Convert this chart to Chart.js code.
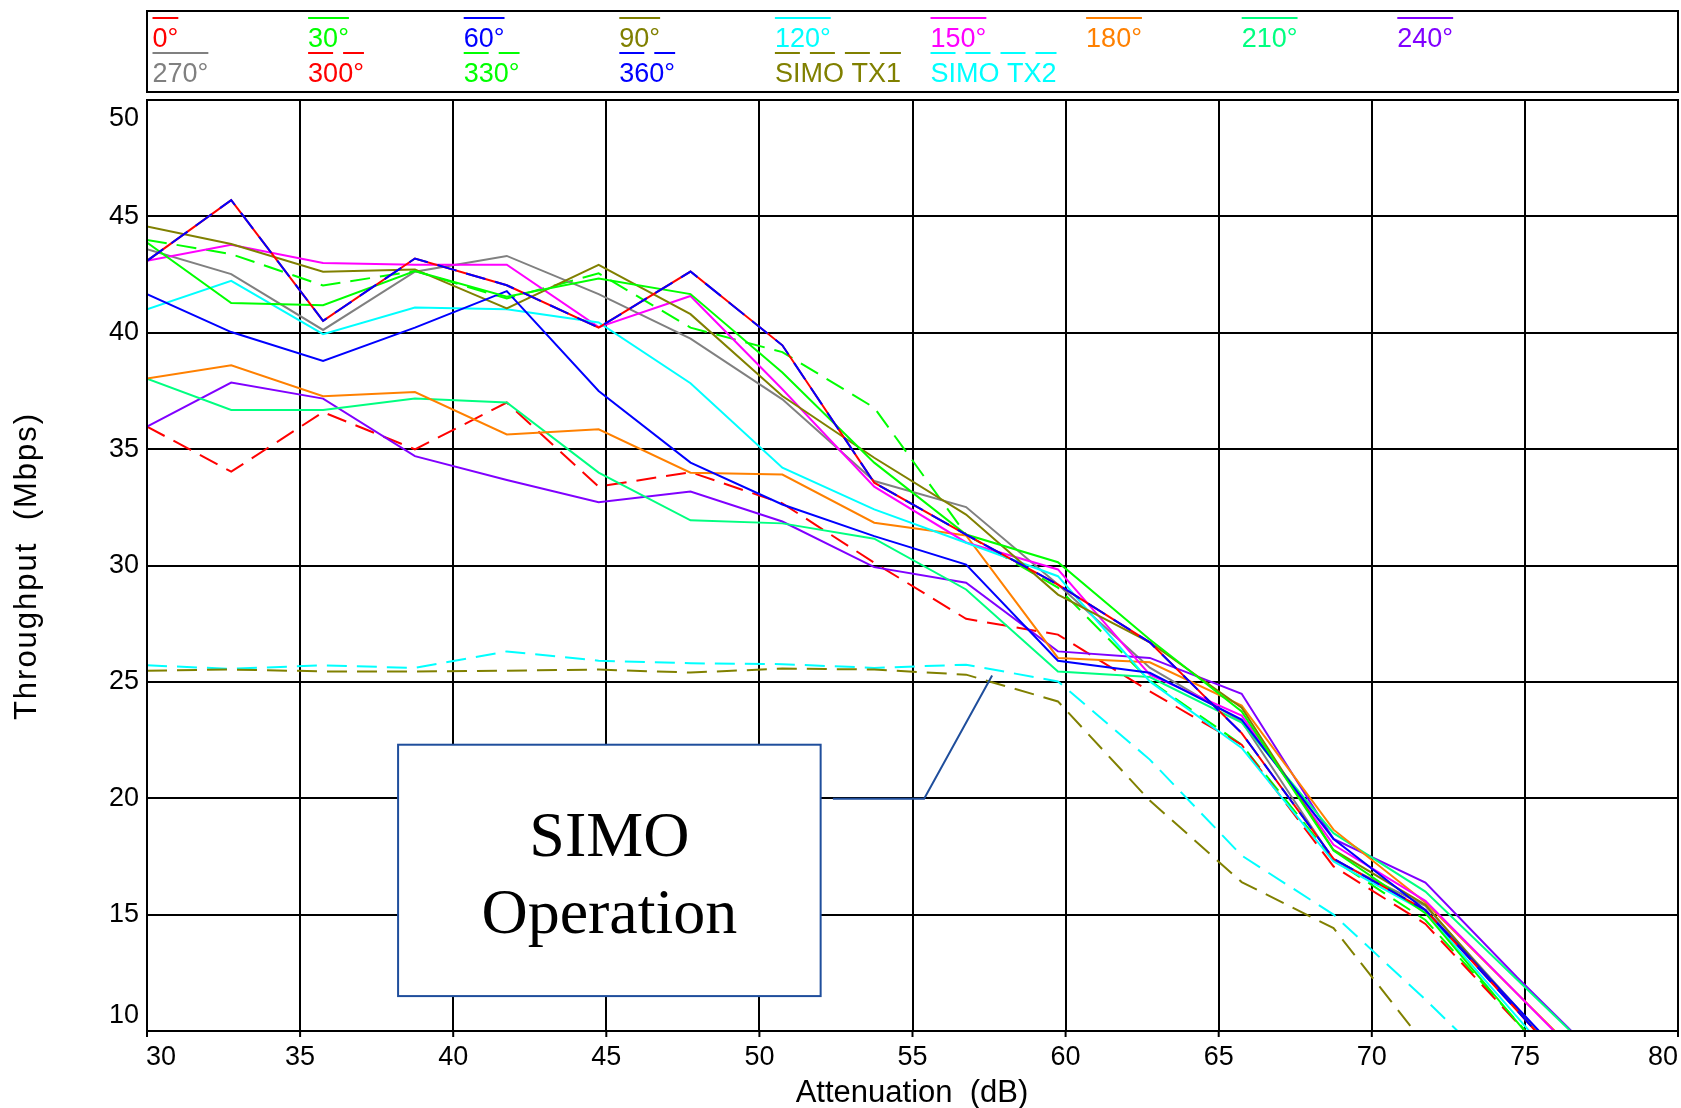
<!DOCTYPE html>
<html>
<head>
<meta charset="utf-8">
<title>SIMO Throughput vs Attenuation</title>
<script src="https://cdn.jsdelivr.net/npm/chart.js@4.4.1/dist/chart.umd.min.js"></script>
<style>
  html, body { margin:0; padding:0; background:#fff; }
  #wrap { width:1681px; height:1108px; }
</style>
</head>
<body>
<div id="wrap"><canvas id="tputChart" width="1681" height="1108"></canvas></div>
<script>
// attenuation steps (dB)
const attenuation = [30, 32.75, 35.75, 38.75, 41.75, 44.75, 47.75, 50.75, 53.75, 56.75, 59.75, 62.75, 65.75, 68.75, 71.75, 74.75, 77.75];

// throughput (Mbps) per rotation angle
const deg0   = [43.09, 45.70, 40.51, 43.19, 42.04, 40.22, 42.63, 39.46, 33.56, 31.33, 29.18, 26.70, 22.80, 17.40, 15.20, 10.87, 6.5];
const deg30  = [43.88, 41.28, 41.18, 42.65, 41.55, 42.33, 41.66, 38.29, 34.42, 31.33, 30.14, 26.82, 23.73, 17.75, 15.06, 10.38, 5.7];
const deg60  = [41.66, 40.03, 38.79, 40.22, 41.79, 37.50, 34.42, 32.62, 31.26, 30.04, 25.91, 25.39, 23.38, 18.25, 15.20, 11.00, 6.8];
const deg90  = [44.57, 43.81, 42.62, 42.72, 41.05, 42.92, 40.80, 37.28, 34.63, 32.19, 28.75, 26.70, 23.89, 17.78, 15.42, 10.90, 6.4];
const deg120 = [41.01, 42.23, 39.94, 41.08, 41.01, 40.44, 37.83, 34.20, 32.41, 30.98, 29.54, 25.02, 22.16, 17.28, 15.12, 10.60, 6.0];
const deg150 = [43.09, 43.78, 43.00, 42.92, 42.92, 40.24, 41.58, 37.57, 33.39, 30.99, 29.83, 25.31, 23.55, 18.00, 15.59, 11.60, 7.6];
const deg180 = [38.03, 38.60, 37.27, 37.45, 35.63, 35.85, 33.99, 33.91, 31.84, 31.29, 26.03, 25.84, 23.98, 18.65, 15.52, 11.60, 7.7];
const deg210 = [38.03, 36.68, 36.68, 37.17, 37.00, 33.99, 31.94, 31.81, 31.15, 28.97, 25.45, 25.21, 23.25, 18.50, 15.99, 12.20, 8.4];
const deg240 = [35.97, 37.86, 37.17, 34.70, 33.67, 32.72, 33.18, 31.89, 29.93, 29.26, 26.31, 26.03, 24.49, 18.25, 16.38, 12.30, 8.4];
const deg270 = [43.59, 42.52, 40.12, 42.62, 43.30, 41.66, 39.75, 37.14, 33.63, 32.51, 29.18, 25.61, 23.30, 17.35, 15.38, 11.00, 6.6];
const deg300 = [35.97, 34.03, 36.59, 34.99, 37.00, 33.39, 34.01, 32.67, 30.12, 27.71, 27.03, 24.59, 22.30, 17.07, 14.60, 10.35, 6.2];
const deg330 = [43.99, 43.38, 42.03, 42.65, 41.47, 42.55, 40.22, 39.17, 36.78, 31.33, 29.05, 25.05, 22.30, 17.35, 14.77, 10.40, 6.0];
const deg360 = [43.09, 45.70, 40.51, 43.19, 42.04, 40.22, 42.63, 39.46, 33.56, 31.33, 29.18, 26.70, 22.80, 17.40, 15.20, 10.87, 6.5];
const simoTx1 = [25.48, 25.53, 25.45, 25.45, 25.48, 25.53, 25.40, 25.57, 25.53, 25.31, 24.16, 19.90, 16.40, 14.42, 9.40, 4.40, null];
const simoTx2 = [25.71, 25.56, 25.71, 25.60, 26.31, 25.91, 25.80, 25.76, 25.60, 25.74, 25.02, 21.66, 17.54, 15.00, 11.35, 7.50, null];

const seriesNames = ['0°', '30°', '60°', '90°', '120°', '150°', '180°', '210°', '240°', '270°', '300°', '330°', '360°', 'SIMO TX1', 'SIMO TX2'];
const seriesData = [deg0, deg30, deg60, deg90, deg120, deg150, deg180, deg210, deg240, deg270, deg300, deg330, deg360, simoTx1, simoTx2];
const seriesColors = ['#ff0000', '#00ff00', '#0000ff', '#808000', '#00ffff', '#ff00ff', '#ff8000', '#00ff80', '#8000ff', '#808080', '#ff0000', '#00ff00', '#0000ff', '#808000', '#00ffff'];
const seriesDashed = [false, false, false, false, false, false, false, false, false, false, true, true, true, true, true];

const xTicks = [30, 35, 40, 45, 50, 55, 60, 65, 70, 75, 80];
const yTicks = [10, 15, 20, 25, 30, 35, 40, 45, 50];

const noteLines = ['SIMO', 'Operation'];

// annotation placement, in axis units
const noteBox = { x0: 38.2, y0: 22.3, x1: 52.0, y1: 11.5 };
const noteTextX = 45.1;
const noteTextY = [18.25, 14.95];
const leaderPts = [[52.4, 19.98], [55.38, 19.98], [57.6, 25.27]];

const SANS = '"Liberation Sans", Arial, sans-serif';
const SERIF = '"Liberation Serif", "Times New Roman", serif';

const drawExtras = {
    id: 'drawExtras',
    afterDatasetsDraw(chart){
        const ctx = chart.ctx;
        const xs = chart.scales.x, ys = chart.scales.y;
        const area = chart.chartArea;

        // plot frame
        ctx.save();
        ctx.strokeStyle = '#000';
        ctx.lineWidth = 2;
        ctx.strokeRect(area.left, area.top, area.right - area.left, area.bottom - area.top);

        // small ticks under x axis
        xTicks.forEach(v => {
            const px = xs.getPixelForValue(v);
            ctx.beginPath();
            ctx.moveTo(px, area.bottom);
            ctx.lineTo(px, area.bottom + 6);
            ctx.stroke();
        });

        // tick labels (end labels kept inside the frame like the original)
        ctx.fillStyle = '#000';
        ctx.font = '27px ' + SANS;
        ctx.textAlign = 'right';
        ctx.textBaseline = 'middle';
        yTicks.forEach(v => {
            let py = ys.getPixelForValue(v);
            py = Math.min(Math.max(py, area.top + 19), area.bottom - 15);
            ctx.fillText(String(v), area.left - 8, py);
        });
        ctx.textAlign = 'center';
        xTicks.forEach(v => {
            let px = xs.getPixelForValue(v);
            px = Math.min(Math.max(px, area.left + 14), area.right - 15);
            ctx.fillText(String(v), px, area.bottom + 27);
        });

        // axis titles
        ctx.font = '31px ' + SANS;
        ctx.fillText('Attenuation  (dB)', 912, 1093);
        ctx.save();
        ctx.translate(27, 566);
        ctx.rotate(-Math.PI / 2);
        ctx.letterSpacing = '2px';
        ctx.fillText('Throughput  (Mbps)', 0, 0);
        ctx.restore();

        // SIMO note box + leader
        const bx0 = xs.getPixelForValue(noteBox.x0), by0 = ys.getPixelForValue(noteBox.y0);
        const bx1 = xs.getPixelForValue(noteBox.x1), by1 = ys.getPixelForValue(noteBox.y1);
        ctx.fillStyle = '#fff';
        ctx.fillRect(bx0, by0, bx1 - bx0, by1 - by0);
        ctx.strokeStyle = '#1f4e9c';
        ctx.lineWidth = 2;
        ctx.strokeRect(bx0, by0, bx1 - bx0, by1 - by0);
        ctx.beginPath();
        leaderPts.forEach((p, i) => {
            const px = xs.getPixelForValue(p[0]), py = ys.getPixelForValue(p[1]);
            if(i === 0) ctx.moveTo(px, py); else ctx.lineTo(px, py);
        });
        ctx.stroke();
        ctx.fillStyle = '#000';
        ctx.font = '64px ' + SERIF;
        ctx.textAlign = 'center';
        noteLines.forEach((t, i) => {
            ctx.fillText(t, xs.getPixelForValue(noteTextX), ys.getPixelForValue(noteTextY[i]));
        });

        // legend box on top
        ctx.strokeStyle = '#000';
        ctx.lineWidth = 2;
        ctx.strokeRect(area.left, 11, area.right - area.left, 81);
        ctx.font = '27px ' + SANS;
        ctx.textAlign = 'left';
        seriesNames.forEach((name, i) => {
            const row = i < 9 ? 0 : 1;
            const col = row === 0 ? i : i - 9;
            const lx = 152.5 + col * 155.6;
            const w = ctx.measureText(name).width;
            const ly = row === 0 ? 18 : 53;
            ctx.strokeStyle = seriesColors[i];
            ctx.lineWidth = 2;
            ctx.setLineDash(seriesDashed[i] ? [25, 10] : []);
            ctx.beginPath();
            ctx.moveTo(lx, ly);
            ctx.lineTo(lx + w, ly);
            ctx.stroke();
            ctx.setLineDash([]);
            ctx.fillStyle = seriesColors[i];
            ctx.fillText(name, lx, row === 0 ? 40 : 75);
        });
        ctx.restore();
    }
};

const datasets = seriesNames.map((name, i) => ({
    label: name,
    data: attenuation.map((a, j) => ({ x: a, y: seriesData[i][j] })),
    borderColor: seriesColors[i],
    borderWidth: 2,
    borderDash: seriesDashed[i] ? [20, 10] : [],
    pointRadius: 0,
    tension: 0,
    fill: false,
    spanGaps: false,
    order: name === '360°' ? 0 : 1
}));

new Chart(document.getElementById('tputChart'), {
    type: 'line',
    data: { datasets: datasets },
    options: {
        responsive: false,
        animation: false,
        layout: { padding: { left: 147, right: 3, top: 100, bottom: 77 } },
        plugins: { legend: { display: false }, tooltip: { enabled: false } },
        scales: {
            x: {
                type: 'linear', min: 30, max: 80,
                ticks: { display: false, stepSize: 5 },
                grid: { color: '#000', lineWidth: 2, drawTicks: false },
                border: { color: '#000', width: 2 }
            },
            y: {
                min: 10, max: 50,
                ticks: { display: false, stepSize: 5 },
                grid: { color: '#000', lineWidth: 2, drawTicks: false },
                border: { color: '#000', width: 2 }
            }
        }
    },
    plugins: [drawExtras]
});
</script>
</body>
</html>
